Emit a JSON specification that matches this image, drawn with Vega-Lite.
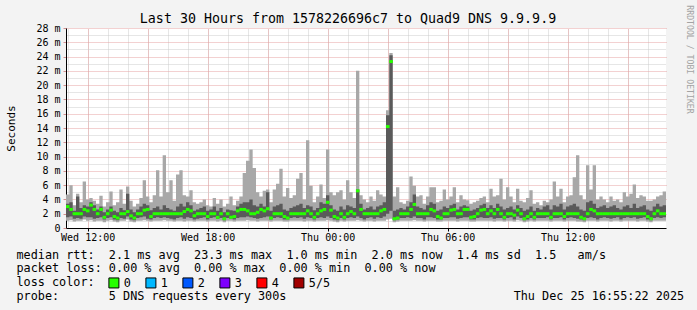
{
"$schema":"https://vega.github.io/schema/vega-lite/v6.json",
"width":600,"height":200,"autosize":"none",
"padding":{"left":66,"top":28,"right":31,"bottom":82},
"background":"#f3f3f3",
"config":{"view":{"fill":"#ffffff","stroke":null},"font":"DejaVu Sans Mono",
"axis":{"labelFont":"DejaVu Sans Mono","titleFont":"DejaVu Sans Mono","titleFontWeight":"normal","labelColor":"#000","titleColor":"#000","domainColor":"#000","tickColor":"#000","labelFontSize":10}},
"title":{"text":"Last 30 Hours from 1578226696c7 to Quad9 DNS 9.9.9.9","font":"DejaVu Sans Mono","fontSize":13.3,"fontWeight":"normal","color":"#000","anchor":"middle","frame":"group","dx":-18,"dy":36,"offset":4,"baseline":"alphabetic"},
"data":{"values":[
{"t":"2025-12-24T10:55","lo":1.0,"q1":1.5,"m":3.0,"q3":3.4,"hi":4.7},
{"t":"2025-12-24T11:05","lo":1.1,"q1":1.6,"m":2.6,"q3":3.6,"hi":6.0},
{"t":"2025-12-24T11:15","lo":0.9,"q1":1.3,"m":2.0,"q3":2.4,"hi":3.2},
{"t":"2025-12-24T11:25","lo":1.0,"q1":1.4,"m":2.0,"q3":4.4,"hi":4.8},
{"t":"2025-12-24T11:35","lo":1.0,"q1":1.3,"m":2.0,"q3":2.8,"hi":3.6},
{"t":"2025-12-24T11:45","lo":1.2,"q1":1.6,"m":2.6,"q3":3.2,"hi":6.5},
{"t":"2025-12-24T11:55","lo":1.0,"q1":1.5,"m":2.4,"q3":3.0,"hi":4.0},
{"t":"2025-12-24T12:05","lo":1.1,"q1":1.5,"m":3.2,"q3":3.6,"hi":4.2},
{"t":"2025-12-24T12:15","lo":0.9,"q1":1.3,"m":2.6,"q3":3.2,"hi":3.8},
{"t":"2025-12-24T12:25","lo":1.0,"q1":1.4,"m":2.0,"q3":2.6,"hi":3.4},
{"t":"2025-12-24T12:35","lo":1.0,"q1":1.5,"m":2.6,"q3":3.0,"hi":4.5},
{"t":"2025-12-24T12:45","lo":0.8,"q1":1.2,"m":1.5,"q3":2.2,"hi":3.0},
{"t":"2025-12-24T12:55","lo":1.0,"q1":1.4,"m":2.0,"q3":2.6,"hi":3.6},
{"t":"2025-12-24T13:05","lo":1.1,"q1":1.5,"m":2.5,"q3":3.0,"hi":5.1},
{"t":"2025-12-24T13:15","lo":0.9,"q1":1.2,"m":1.6,"q3":2.4,"hi":3.2},
{"t":"2025-12-24T13:25","lo":0.8,"q1":1.1,"m":1.4,"q3":2.2,"hi":3.6},
{"t":"2025-12-24T13:35","lo":1.0,"q1":1.4,"m":2.0,"q3":2.8,"hi":5.4},
{"t":"2025-12-24T13:45","lo":1.0,"q1":1.3,"m":2.0,"q3":2.5,"hi":3.4},
{"t":"2025-12-24T13:55","lo":1.2,"q1":1.6,"m":2.3,"q3":4.8,"hi":5.8},
{"t":"2025-12-24T14:05","lo":0.9,"q1":1.2,"m":1.7,"q3":2.6,"hi":3.8},
{"t":"2025-12-24T14:15","lo":0.8,"q1":1.1,"m":1.4,"q3":2.2,"hi":3.0},
{"t":"2025-12-24T14:25","lo":1.0,"q1":1.4,"m":2.0,"q3":2.6,"hi":3.4},
{"t":"2025-12-24T14:35","lo":1.0,"q1":1.5,"m":2.0,"q3":3.0,"hi":4.2},
{"t":"2025-12-24T14:45","lo":1.1,"q1":1.6,"m":2.5,"q3":3.4,"hi":6.7},
{"t":"2025-12-24T14:55","lo":1.0,"q1":1.3,"m":2.6,"q3":3.2,"hi":4.4},
{"t":"2025-12-24T15:05","lo":0.9,"q1":1.2,"m":1.6,"q3":2.5,"hi":3.6},
{"t":"2025-12-24T15:15","lo":1.0,"q1":1.4,"m":2.0,"q3":2.8,"hi":4.6},
{"t":"2025-12-24T15:25","lo":1.0,"q1":1.5,"m":2.0,"q3":3.0,"hi":8.1},
{"t":"2025-12-24T15:35","lo":1.0,"q1":1.4,"m":2.0,"q3":2.6,"hi":4.4},
{"t":"2025-12-24T15:45","lo":1.1,"q1":1.5,"m":2.0,"q3":3.2,"hi":10.2},
{"t":"2025-12-24T15:55","lo":1.0,"q1":1.4,"m":2.0,"q3":2.8,"hi":5.0},
{"t":"2025-12-24T16:05","lo":1.0,"q1":1.3,"m":2.0,"q3":2.6,"hi":6.7},
{"t":"2025-12-24T16:15","lo":0.9,"q1":1.2,"m":2.0,"q3":2.4,"hi":3.8},
{"t":"2025-12-24T16:25","lo":1.0,"q1":1.4,"m":2.0,"q3":3.0,"hi":7.5},
{"t":"2025-12-24T16:35","lo":1.0,"q1":1.5,"m":2.0,"q3":3.4,"hi":8.1},
{"t":"2025-12-24T16:45","lo":0.9,"q1":1.3,"m":2.3,"q3":3.0,"hi":4.6},
{"t":"2025-12-24T16:55","lo":1.0,"q1":1.5,"m":2.6,"q3":3.6,"hi":4.4},
{"t":"2025-12-24T17:05","lo":1.0,"q1":1.4,"m":2.4,"q3":3.2,"hi":5.3},
{"t":"2025-12-24T17:15","lo":0.9,"q1":1.2,"m":1.7,"q3":2.4,"hi":3.6},
{"t":"2025-12-24T17:25","lo":1.0,"q1":1.3,"m":2.0,"q3":2.6,"hi":3.4},
{"t":"2025-12-24T17:35","lo":1.0,"q1":1.4,"m":2.0,"q3":2.8,"hi":3.6},
{"t":"2025-12-24T17:45","lo":1.0,"q1":1.5,"m":2.0,"q3":3.0,"hi":4.0},
{"t":"2025-12-24T17:55","lo":0.9,"q1":1.2,"m":1.6,"q3":2.4,"hi":3.2},
{"t":"2025-12-24T18:05","lo":1.0,"q1":1.4,"m":2.0,"q3":2.6,"hi":3.0},
{"t":"2025-12-24T18:15","lo":1.0,"q1":1.5,"m":2.0,"q3":3.0,"hi":4.2},
{"t":"2025-12-24T18:25","lo":0.9,"q1":1.3,"m":1.5,"q3":2.4,"hi":3.4},
{"t":"2025-12-24T18:35","lo":1.0,"q1":1.4,"m":2.0,"q3":2.8,"hi":4.0},
{"t":"2025-12-24T18:45","lo":0.8,"q1":1.1,"m":1.3,"q3":2.2,"hi":3.0},
{"t":"2025-12-24T18:55","lo":1.0,"q1":1.4,"m":2.0,"q3":2.6,"hi":3.4},
{"t":"2025-12-24T19:05","lo":1.0,"q1":1.3,"m":1.5,"q3":2.5,"hi":4.4},
{"t":"2025-12-24T19:15","lo":0.9,"q1":1.2,"m":1.6,"q3":2.4,"hi":3.2},
{"t":"2025-12-24T19:25","lo":1.0,"q1":1.4,"m":2.4,"q3":3.0,"hi":3.8},
{"t":"2025-12-24T19:35","lo":1.0,"q1":1.5,"m":2.6,"q3":3.4,"hi":4.4},
{"t":"2025-12-24T19:45","lo":1.0,"q1":1.5,"m":2.6,"q3":3.6,"hi":7.7},
{"t":"2025-12-24T19:55","lo":1.1,"q1":1.6,"m":2.4,"q3":3.6,"hi":9.4},
{"t":"2025-12-24T20:05","lo":1.0,"q1":1.5,"m":2.0,"q3":4.0,"hi":11.0},
{"t":"2025-12-24T20:15","lo":1.0,"q1":1.4,"m":2.0,"q3":3.2,"hi":8.4},
{"t":"2025-12-24T20:25","lo":0.9,"q1":1.3,"m":2.2,"q3":3.0,"hi":5.0},
{"t":"2025-12-24T20:35","lo":1.0,"q1":1.4,"m":2.6,"q3":3.4,"hi":4.4},
{"t":"2025-12-24T20:45","lo":1.0,"q1":1.5,"m":2.4,"q3":3.0,"hi":5.2},
{"t":"2025-12-24T20:55","lo":1.0,"q1":1.6,"m":2.7,"q3":5.0,"hi":5.4},
{"t":"2025-12-24T21:05","lo":0.9,"q1":1.2,"m":1.4,"q3":2.4,"hi":3.6},
{"t":"2025-12-24T21:15","lo":1.0,"q1":1.4,"m":2.0,"q3":3.0,"hi":5.4},
{"t":"2025-12-24T21:25","lo":1.0,"q1":1.5,"m":2.0,"q3":3.2,"hi":6.2},
{"t":"2025-12-24T21:35","lo":1.0,"q1":1.4,"m":2.0,"q3":3.4,"hi":8.3},
{"t":"2025-12-24T21:45","lo":0.9,"q1":1.2,"m":1.6,"q3":2.6,"hi":4.4},
{"t":"2025-12-24T21:55","lo":0.9,"q1":1.2,"m":1.4,"q3":2.4,"hi":5.6},
{"t":"2025-12-24T22:05","lo":1.0,"q1":1.4,"m":2.0,"q3":2.8,"hi":4.2},
{"t":"2025-12-24T22:15","lo":1.0,"q1":1.5,"m":2.0,"q3":3.0,"hi":4.6},
{"t":"2025-12-24T22:25","lo":1.0,"q1":1.4,"m":2.0,"q3":3.2,"hi":6.9},
{"t":"2025-12-24T22:35","lo":1.0,"q1":1.5,"m":2.0,"q3":3.4,"hi":7.7},
{"t":"2025-12-24T22:45","lo":0.9,"q1":1.3,"m":2.0,"q3":2.8,"hi":4.0},
{"t":"2025-12-24T22:55","lo":1.0,"q1":1.5,"m":2.4,"q3":3.2,"hi":12.3},
{"t":"2025-12-24T23:05","lo":1.0,"q1":1.4,"m":2.0,"q3":3.0,"hi":5.9},
{"t":"2025-12-24T23:15","lo":0.9,"q1":1.2,"m":1.5,"q3":2.5,"hi":3.6},
{"t":"2025-12-24T23:25","lo":1.0,"q1":1.4,"m":2.0,"q3":2.8,"hi":4.4},
{"t":"2025-12-24T23:35","lo":1.0,"q1":1.5,"m":2.4,"q3":3.6,"hi":6.1},
{"t":"2025-12-24T23:45","lo":1.0,"q1":1.4,"m":2.6,"q3":3.4,"hi":4.2},
{"t":"2025-12-24T23:55","lo":1.1,"q1":1.6,"m":3.6,"q3":4.6,"hi":11.0},
{"t":"2025-12-25T00:05","lo":1.0,"q1":1.4,"m":2.5,"q3":3.2,"hi":5.0},
{"t":"2025-12-25T00:15","lo":0.9,"q1":1.2,"m":1.6,"q3":2.6,"hi":4.6},
{"t":"2025-12-25T00:25","lo":0.8,"q1":1.1,"m":1.4,"q3":2.4,"hi":5.0},
{"t":"2025-12-25T00:35","lo":1.0,"q1":1.4,"m":2.0,"q3":3.0,"hi":5.3},
{"t":"2025-12-25T00:45","lo":0.9,"q1":1.2,"m":1.5,"q3":2.6,"hi":4.0},
{"t":"2025-12-25T00:55","lo":1.0,"q1":1.4,"m":2.0,"q3":3.2,"hi":6.7},
{"t":"2025-12-25T01:05","lo":1.0,"q1":1.5,"m":2.3,"q3":3.0,"hi":5.0},
{"t":"2025-12-25T01:15","lo":1.0,"q1":1.4,"m":2.0,"q3":2.8,"hi":4.2},
{"t":"2025-12-25T01:25","lo":1.1,"q1":1.6,"m":5.2,"q3":5.4,"hi":22.0},
{"t":"2025-12-25T01:35","lo":1.0,"q1":1.4,"m":2.6,"q3":3.4,"hi":4.6},
{"t":"2025-12-25T01:45","lo":0.9,"q1":1.2,"m":2.0,"q3":2.6,"hi":4.0},
{"t":"2025-12-25T01:55","lo":1.0,"q1":1.4,"m":2.0,"q3":2.8,"hi":3.6},
{"t":"2025-12-25T02:05","lo":1.0,"q1":1.5,"m":2.0,"q3":3.0,"hi":4.4},
{"t":"2025-12-25T02:15","lo":0.9,"q1":1.3,"m":2.0,"q3":2.6,"hi":3.8},
{"t":"2025-12-25T02:25","lo":1.0,"q1":1.5,"m":2.0,"q3":3.0,"hi":5.3},
{"t":"2025-12-25T02:35","lo":1.0,"q1":1.4,"m":2.4,"q3":3.2,"hi":4.7},
{"t":"2025-12-25T02:45","lo":1.0,"q1":1.6,"m":2.6,"q3":3.6,"hi":4.4},
{"t":"2025-12-25T02:55","lo":1.2,"q1":2.0,"m":14.2,"q3":15.8,"hi":16.5},
{"t":"2025-12-25T03:05","lo":1.3,"q1":2.4,"m":23.3,"q3":24.2,"hi":24.5},
{"t":"2025-12-25T03:15","lo":0.8,"q1":1.1,"m":1.3,"q3":2.4,"hi":4.4},
{"t":"2025-12-25T03:25","lo":0.9,"q1":1.2,"m":1.4,"q3":2.6,"hi":5.7},
{"t":"2025-12-25T03:35","lo":1.0,"q1":1.4,"m":2.0,"q3":2.8,"hi":3.6},
{"t":"2025-12-25T03:45","lo":1.0,"q1":1.4,"m":2.0,"q3":2.6,"hi":3.4},
{"t":"2025-12-25T03:55","lo":1.0,"q1":1.5,"m":2.0,"q3":3.0,"hi":3.8},
{"t":"2025-12-25T04:05","lo":1.0,"q1":1.4,"m":2.6,"q3":3.6,"hi":7.2},
{"t":"2025-12-25T04:15","lo":1.1,"q1":1.6,"m":3.3,"q3":4.7,"hi":5.9},
{"t":"2025-12-25T04:25","lo":1.0,"q1":1.4,"m":2.0,"q3":3.0,"hi":4.4},
{"t":"2025-12-25T04:35","lo":1.0,"q1":1.4,"m":2.0,"q3":2.8,"hi":4.6},
{"t":"2025-12-25T04:45","lo":0.9,"q1":1.2,"m":2.0,"q3":2.6,"hi":3.4},
{"t":"2025-12-25T04:55","lo":1.0,"q1":1.5,"m":2.0,"q3":3.2,"hi":4.4},
{"t":"2025-12-25T05:05","lo":1.0,"q1":1.5,"m":2.6,"q3":3.6,"hi":5.7},
{"t":"2025-12-25T05:15","lo":1.0,"q1":1.4,"m":2.4,"q3":3.4,"hi":5.7},
{"t":"2025-12-25T05:25","lo":0.9,"q1":1.2,"m":1.6,"q3":2.4,"hi":3.6},
{"t":"2025-12-25T05:35","lo":0.9,"q1":1.2,"m":1.4,"q3":2.6,"hi":3.8},
{"t":"2025-12-25T05:45","lo":1.0,"q1":1.4,"m":2.0,"q3":3.0,"hi":5.4},
{"t":"2025-12-25T05:55","lo":1.0,"q1":1.4,"m":2.0,"q3":2.8,"hi":4.0},
{"t":"2025-12-25T06:05","lo":1.0,"q1":1.5,"m":2.5,"q3":3.2,"hi":4.4},
{"t":"2025-12-25T06:15","lo":1.0,"q1":1.5,"m":2.6,"q3":3.4,"hi":5.7},
{"t":"2025-12-25T06:25","lo":0.9,"q1":1.3,"m":2.0,"q3":2.6,"hi":3.6},
{"t":"2025-12-25T06:35","lo":1.0,"q1":1.4,"m":2.0,"q3":3.0,"hi":4.6},
{"t":"2025-12-25T06:45","lo":1.0,"q1":1.5,"m":2.6,"q3":3.2,"hi":4.0},
{"t":"2025-12-25T06:55","lo":1.0,"q1":1.5,"m":2.6,"q3":3.0,"hi":3.9},
{"t":"2025-12-25T07:05","lo":0.9,"q1":1.2,"m":1.5,"q3":2.4,"hi":3.4},
{"t":"2025-12-25T07:15","lo":0.9,"q1":1.2,"m":1.6,"q3":2.6,"hi":3.6},
{"t":"2025-12-25T07:25","lo":1.0,"q1":1.4,"m":2.0,"q3":2.8,"hi":3.8},
{"t":"2025-12-25T07:35","lo":1.0,"q1":1.5,"m":2.5,"q3":3.2,"hi":4.2},
{"t":"2025-12-25T07:45","lo":1.0,"q1":1.4,"m":2.6,"q3":3.4,"hi":4.4},
{"t":"2025-12-25T07:55","lo":1.0,"q1":1.4,"m":2.0,"q3":2.8,"hi":3.6},
{"t":"2025-12-25T08:05","lo":1.0,"q1":1.5,"m":2.4,"q3":3.2,"hi":5.5},
{"t":"2025-12-25T08:15","lo":0.9,"q1":1.3,"m":2.0,"q3":2.8,"hi":4.4},
{"t":"2025-12-25T08:25","lo":1.0,"q1":1.4,"m":2.6,"q3":3.4,"hi":4.6},
{"t":"2025-12-25T08:35","lo":1.0,"q1":1.4,"m":2.0,"q3":3.0,"hi":6.9},
{"t":"2025-12-25T08:45","lo":0.9,"q1":1.2,"m":1.5,"q3":2.6,"hi":4.0},
{"t":"2025-12-25T08:55","lo":1.0,"q1":1.4,"m":2.0,"q3":2.8,"hi":5.7},
{"t":"2025-12-25T09:05","lo":1.0,"q1":1.5,"m":2.0,"q3":3.0,"hi":4.4},
{"t":"2025-12-25T09:15","lo":0.9,"q1":1.2,"m":1.8,"q3":2.6,"hi":3.6},
{"t":"2025-12-25T09:25","lo":1.1,"q1":1.6,"m":2.5,"q3":3.2,"hi":5.5},
{"t":"2025-12-25T09:35","lo":1.0,"q1":1.4,"m":2.0,"q3":2.8,"hi":3.8},
{"t":"2025-12-25T09:45","lo":0.8,"q1":1.1,"m":1.3,"q3":2.4,"hi":3.6},
{"t":"2025-12-25T09:55","lo":0.9,"q1":1.2,"m":1.6,"q3":2.6,"hi":4.2},
{"t":"2025-12-25T10:05","lo":1.0,"q1":1.4,"m":2.0,"q3":3.0,"hi":5.3},
{"t":"2025-12-25T10:15","lo":0.9,"q1":1.2,"m":1.5,"q3":2.4,"hi":3.4},
{"t":"2025-12-25T10:25","lo":1.0,"q1":1.4,"m":2.0,"q3":2.8,"hi":3.6},
{"t":"2025-12-25T10:35","lo":1.0,"q1":1.4,"m":2.0,"q3":2.6,"hi":3.2},
{"t":"2025-12-25T10:45","lo":1.0,"q1":1.4,"m":2.0,"q3":3.0,"hi":3.8},
{"t":"2025-12-25T10:55","lo":1.0,"q1":1.5,"m":2.0,"q3":3.2,"hi":3.6},
{"t":"2025-12-25T11:05","lo":0.9,"q1":1.2,"m":1.5,"q3":2.6,"hi":4.0},
{"t":"2025-12-25T11:15","lo":1.0,"q1":1.4,"m":2.0,"q3":3.2,"hi":6.5},
{"t":"2025-12-25T11:25","lo":1.0,"q1":1.4,"m":2.0,"q3":3.0,"hi":4.4},
{"t":"2025-12-25T11:35","lo":1.0,"q1":1.5,"m":2.0,"q3":3.4,"hi":5.5},
{"t":"2025-12-25T11:45","lo":0.9,"q1":1.2,"m":1.6,"q3":2.6,"hi":3.6},
{"t":"2025-12-25T11:55","lo":1.0,"q1":1.4,"m":2.0,"q3":3.0,"hi":4.4},
{"t":"2025-12-25T12:05","lo":1.0,"q1":1.5,"m":2.0,"q3":3.2,"hi":4.6},
{"t":"2025-12-25T12:15","lo":1.0,"q1":1.4,"m":2.0,"q3":3.4,"hi":7.1},
{"t":"2025-12-25T12:25","lo":0.9,"q1":1.3,"m":2.0,"q3":3.0,"hi":10.2},
{"t":"2025-12-25T12:35","lo":0.9,"q1":1.2,"m":1.5,"q3":2.6,"hi":4.6},
{"t":"2025-12-25T12:45","lo":0.8,"q1":1.1,"m":1.3,"q3":2.4,"hi":4.0},
{"t":"2025-12-25T12:55","lo":1.0,"q1":1.4,"m":2.0,"q3":3.6,"hi":8.8},
{"t":"2025-12-25T13:05","lo":1.0,"q1":1.5,"m":2.6,"q3":3.8,"hi":5.4},
{"t":"2025-12-25T13:15","lo":1.0,"q1":1.4,"m":2.4,"q3":3.4,"hi":8.8},
{"t":"2025-12-25T13:25","lo":0.9,"q1":1.2,"m":2.0,"q3":2.8,"hi":4.0},
{"t":"2025-12-25T13:35","lo":1.0,"q1":1.4,"m":2.0,"q3":3.0,"hi":4.4},
{"t":"2025-12-25T13:45","lo":1.0,"q1":1.5,"m":2.0,"q3":3.2,"hi":4.0},
{"t":"2025-12-25T13:55","lo":1.0,"q1":1.4,"m":2.0,"q3":2.8,"hi":3.6},
{"t":"2025-12-25T14:05","lo":0.9,"q1":1.3,"m":2.0,"q3":3.0,"hi":4.4},
{"t":"2025-12-25T14:15","lo":1.0,"q1":1.4,"m":2.0,"q3":3.2,"hi":3.8},
{"t":"2025-12-25T14:25","lo":1.0,"q1":1.5,"m":2.0,"q3":2.8,"hi":4.0},
{"t":"2025-12-25T14:35","lo":0.9,"q1":1.2,"m":2.0,"q3":2.6,"hi":3.6},
{"t":"2025-12-25T14:45","lo":1.0,"q1":1.4,"m":2.0,"q3":3.0,"hi":5.0},
{"t":"2025-12-25T14:55","lo":1.0,"q1":1.5,"m":2.0,"q3":3.2,"hi":4.4},
{"t":"2025-12-25T15:05","lo":1.0,"q1":1.4,"m":2.0,"q3":2.8,"hi":4.8},
{"t":"2025-12-25T15:15","lo":1.0,"q1":1.5,"m":2.0,"q3":3.4,"hi":6.1},
{"t":"2025-12-25T15:25","lo":0.9,"q1":1.3,"m":2.0,"q3":2.8,"hi":4.2},
{"t":"2025-12-25T15:35","lo":1.0,"q1":1.4,"m":2.0,"q3":3.0,"hi":4.6},
{"t":"2025-12-25T15:45","lo":1.0,"q1":1.5,"m":2.0,"q3":3.2,"hi":4.4},
{"t":"2025-12-25T15:55","lo":0.9,"q1":1.2,"m":1.6,"q3":2.6,"hi":3.8},
{"t":"2025-12-25T16:05","lo":0.8,"q1":1.1,"m":1.3,"q3":2.4,"hi":3.8},
{"t":"2025-12-25T16:15","lo":1.0,"q1":1.4,"m":2.0,"q3":3.0,"hi":4.0},
{"t":"2025-12-25T16:25","lo":1.0,"q1":1.5,"m":2.4,"q3":3.4,"hi":4.4},
{"t":"2025-12-25T16:35","lo":1.0,"q1":1.4,"m":2.0,"q3":3.0,"hi":4.6},
{"t":"2025-12-25T16:45","lo":1.0,"q1":1.5,"m":2.0,"q3":3.2,"hi":5.1},
{"t":"2025-12-25T16:55","lo":1.0,"q1":1.5,"m":2.0,"q3":3.2,"hi":5.1}
]},
"layer":[
{"mark":{"type":"area","interpolate":"step-after","color":"#a8a8a8"},
 "encoding":{
  "x":{"field":"t","type":"temporal","scale":{"nice":false},
       "axis":{"orient":"top","grid":true,"gridColor":"#cdcdcd","gridDash":[1,1],"gridWidth":1,"tickCount":30,"labels":false,"ticks":false,"domain":false,"title":null}},
  "y":{"field":"lo","type":"quantitative","scale":{"domain":[0,28],"nice":false},
       "axis":{"orient":"left","grid":true,"values":[1,3,5,7,9,11,13,15,17,19,21,23,25,27],"gridColor":"#cdcdcd","gridDash":[1,1],"labels":false,"ticks":false,"domain":false,"title":null}},
  "y2":{"field":"hi"}}},
{"mark":{"type":"area","interpolate":"step-after","color":"#5a5a5a"},
 "encoding":{
  "x":{"field":"t","type":"temporal",
       "axis":{"orient":"top","grid":true,"gridColor":"#e6a3a3","gridDash":[1,1],"gridWidth":1,"tickCount":10,"labels":false,"ticks":false,"domain":false,"title":null}},
  "y":{"field":"q1","type":"quantitative",
       "axis":{"orient":"right","grid":true,"values":[2,4,6,8,10,12,14,16,18,20,22,24,26,28],"gridColor":"#e6a3a3","gridDash":[1,1],"labels":false,"ticks":false,"domain":false,
               "title":"RRDTOOL / TOBI OETIKER","titleX":22,"titleY":31,"titleAngle":90,"titleAlign":"center","titleBaseline":"middle","titleFontSize":8.2,"titleColor":"#a3a3a3"}},
  "y2":{"field":"q3"}}},
{"mark":{"type":"tick","orient":"horizontal","size":3.6,"thickness":3,"xOffset":1.7,"opacity":1,"clip":true},
 "encoding":{
  "x":{"field":"t","type":"temporal",
       "axis":{"orient":"bottom","grid":false,"tickCount":5,"format":"%a %H:%M","labelFontSize":10,"tickSize":3,"labelPadding":1,"domain":true,"domainColor":"#000",
               "title":["median\u00a0rtt:\u00a0\u00a02.1\u00a0ms\u00a0avg\u00a0\u00a023.3\u00a0ms\u00a0max\u00a0\u00a01.0\u00a0ms\u00a0min\u00a0\u00a02.0\u00a0ms\u00a0now\u00a0\u00a01.4\u00a0ms\u00a0sd\u00a0\u00a01.5\u00a0\u00a0\u00a0am/s",
                        "packet\u00a0loss:\u00a00.00\u00a0%\u00a0avg\u00a0\u00a00.00\u00a0%\u00a0max\u00a0\u00a00.00\u00a0%\u00a0min\u00a0\u00a00.00\u00a0%\u00a0now",
                        "loss\u00a0color:",
                        "probe:\u00a0\u00a0\u00a0\u00a0\u00a0\u00a0\u00a05\u00a0DNS\u00a0requests\u00a0every\u00a0300s\u00a0\u00a0\u00a0\u00a0\u00a0\u00a0\u00a0\u00a0\u00a0\u00a0\u00a0\u00a0\u00a0\u00a0\u00a0\u00a0\u00a0\u00a0\u00a0\u00a0\u00a0\u00a0\u00a0\u00a0\u00a0\u00a0\u00a0\u00a0\u00a0\u00a0\u00a0\u00a0Thu\u00a0Dec\u00a025\u00a016:55:22\u00a02025"],
               "titleX":-50,"titleY":21,"titleAlign":"left","titleBaseline":"top","titleFontSize":11.8,"titleLineHeight":13.9}},
  "y":{"field":"m","type":"quantitative",
       "axis":{"orient":"left","grid":false,"values":[0,2,4,6,8,10,12,14,16,18,20,22,24,26,28],"labelExpr":"datum.value == 0 ? '0' : datum.value + ' m'","tickSize":3,"tickColor":"#d09090","labelPadding":3,"domain":true,
               "title":"Seconds","titleX":-55,"titleY":100,"titleAngle":-90,"titleAlign":"center","titleBaseline":"middle","titleFontSize":11}},
  "color":{"datum":"0","type":"nominal",
       "scale":{"domain":["0","1","2","3","4","5/5"],"range":["#26ff00","#00b8ff","#0059ff","#7e00ff","#ff0000","#a10000"]},
       "legend":{"orient":"none","legendX":42,"legendY":249,"direction":"horizontal","title":null,"symbolType":"square","symbolSize":100,"symbolStrokeColor":"#000","symbolStrokeWidth":1,"symbolOpacity":1,"labelFont":"DejaVu Sans Mono","labelFontSize":11.8,"labelColor":"#000","labelOffset":4,"columnPadding":12,"padding":0}}}}
],
"resolve":{"axis":{"x":"independent","y":"independent"}}
}
